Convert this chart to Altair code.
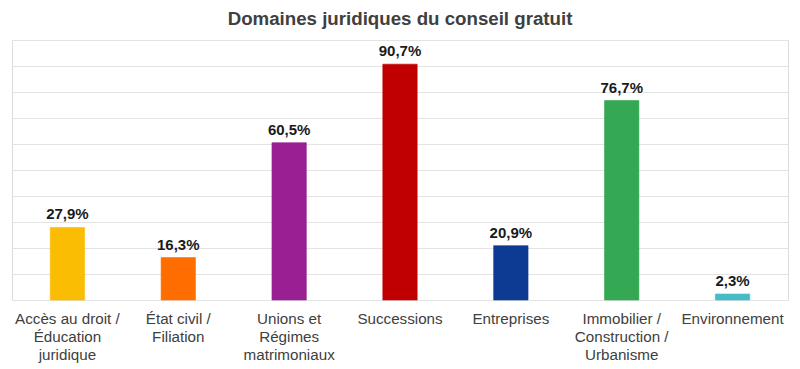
import altair as alt
import pandas as pd

categories = [
    "Accès au droit /|Éducation|juridique",
    "État civil /|Filiation",
    "Unions et|Régimes|matrimoniaux",
    "Successions",
    "Entreprises",
    "Immobilier /|Construction /|Urbanisme",
    "Environnement",
]
values = [27.9, 16.3, 60.5, 90.7, 20.9, 76.7, 2.3]
colors = ["#FBBC04", "#FF6D01", "#9A1F93", "#C00000", "#0D3A92", "#34A853", "#46BDC6"]
y_ticks = [0, 10, 20, 30, 40, 50, 60, 70, 80, 90, 100]

df = pd.DataFrame({
    "cat": categories,
    "val": values,
    "color": colors,
    "label": [f"{v:.1f}%".replace(".", ",") for v in values],
})

x = alt.X(
    "cat:N",
    sort=categories,
    scale=alt.Scale(paddingInner=0.69, paddingOuter=0.345),
    axis=alt.Axis(
        title=None,
        labelAngle=0,
        labelExpr="split(datum.label, '|')",
        labelFont="Liberation Sans",
        labelFontSize=15.2,
        labelColor="#404040",
        labelLineHeight=18,
        labelPadding=11,
        ticks=False,
        domain=False,
        grid=False,
        labelLimit=200,
    ),
)
y = alt.Y(
    "val:Q",
    scale=alt.Scale(domain=[0, 100], nice=False),
    axis=alt.Axis(
        title=None,
        labels=False,
        ticks=False,
        domain=False,
        values=y_ticks,
        gridColor="#e3e3e3",
        gridWidth=1,
    ),
)

bars = alt.Chart(df).mark_bar(strokeWidth=1, strokeOpacity=0.6).encode(
    x=x,
    y=y,
    color=alt.Color("color:N", scale=None),
    stroke=alt.Color("color:N", scale=None),
)
text = alt.Chart(df).mark_text(
    font="Liberation Sans",
    fontSize=15,
    fontWeight="bold",
    color="#1a1a1a",
    baseline="bottom",
    dy=-5,
).encode(x=x, y=y, text="label:N")

chart = (
    alt.layer(bars, text)
    .properties(
        width=776,
        height=260,
        autosize=alt.AutoSizeParams(type="none"),
        padding={"left": 4, "top": 32, "right": 4, "bottom": 69},
        title=alt.TitleParams(
            "Domaines juridiques du conseil gratuit",
            font="Liberation Sans",
            fontSize=18.7,
            fontWeight="bold",
            color="#404040",
            anchor="middle",
            offset=11,
        ),
    )
    .configure_view(stroke=None)
    .configure(background="white")
)

chart.save("out.html", embed_options={"renderer": "svg", "actions": False})
